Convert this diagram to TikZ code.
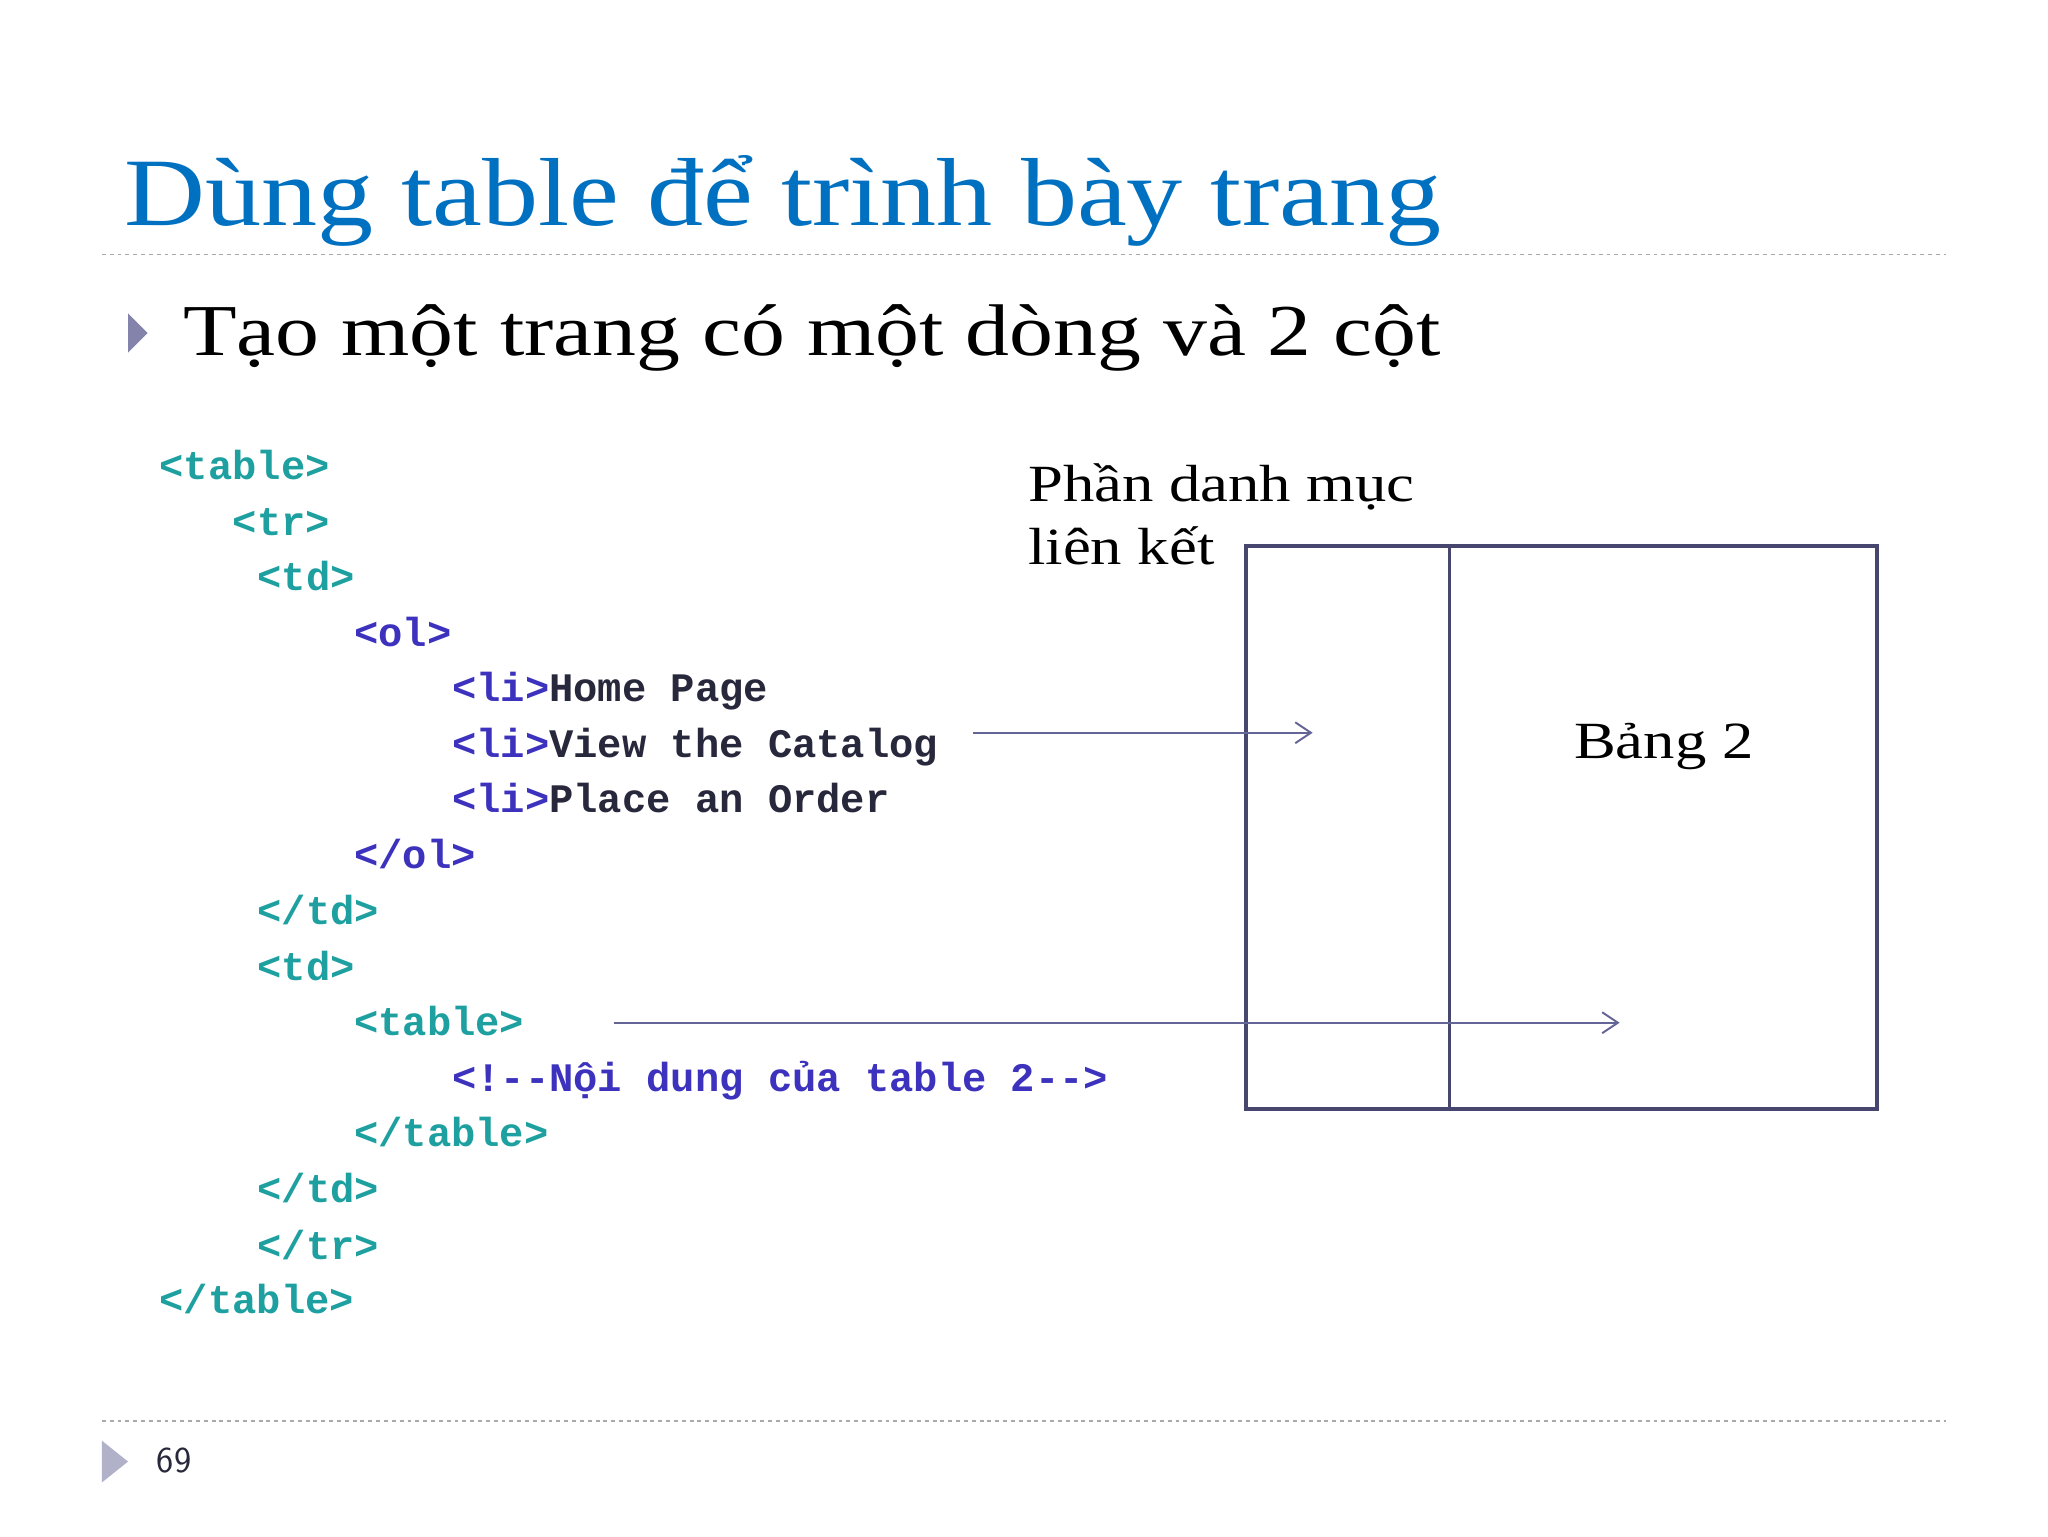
\documentclass[tikz,border=0pt]{standalone}
\usepackage{fontspec}
\setmainfont{Liberation Serif}
\newfontfamily\codefont{Liberation Mono}
\newfontfamily\wideA[FakeStretch=1.16]{Liberation Serif}
\newfontfamily\wideB[FakeStretch=1.2]{Liberation Serif}
\usetikzlibrary{arrows.meta}
\definecolor{titleblue}{RGB}{0,112,192}
\definecolor{tagc}{RGB}{30,160,160}
\definecolor{tagb}{RGB}{60,50,190}
\definecolor{txtc}{RGB}{40,40,60}
\definecolor{boxc}{RGB}{70,70,110}
\definecolor{arrc}{RGB}{100,100,150}
\definecolor{dashc}{RGB}{170,170,170}
\tikzset{
 code/.style={anchor=base west,inner sep=0pt,font=\codefont\fontsize{31}{31}\selectfont\bfseries},
 lbl/.style={anchor=base west,inner sep=0pt,font=\wideB\fontsize{40}{40}\selectfont},
 arr/.style={draw=arrc,line width=1.5pt,-{Straight Barb[length=12pt,width=16pt]}},
}
\begin{document}
\begin{tikzpicture}[x=1pt,y=-1pt]
\useasboundingbox[fill=white] (0,0) rectangle (1568,1176);
\node[anchor=base west,inner sep=0pt,text=titleblue,font=\wideA\fontsize{74}{74}\selectfont] (title) at (95,173) {Dùng table để trình bày trang};
\draw[dashc,dashed,line width=1.2pt] (78,195) -- (1490,195);
\draw[dashc,dashed,line width=1.2pt] (78,1088) -- (1490,1088);
\fill[arrc!80] (98,240) -- (113,255) -- (98,270) -- cycle;
\node[anchor=base west,inner sep=0pt,font=\wideB\fontsize{56}{56}\selectfont] (bul) at (140,272) {Tạo một trang có một dòng và 2 cột};
\fill[arrc!50] (78,1103) -- (98,1119) -- (78,1135) -- cycle;
\node[anchor=base west,inner sep=0pt,text=txtc,font=\fontsize{28}{28}\selectfont\sffamily] (pg) at (120,1127) {69};
% code
\node[code,text=tagc] (c1) at (122,367) {<table>};
\node[code,text=tagc] (c2) at (178,410) {<tr>};
\node[code,text=tagc] (c3) at (197,452) {<td>};
\node[code,text=tagb] (c4) at (271,495) {<ol>};
\node[code] (c5) at (346,537) {\textcolor{tagb}{<li>}\textcolor{txtc}{Home Page}};
\node[code] (c6) at (346,580) {\textcolor{tagb}{<li>}\textcolor{txtc}{View the Catalog}};
\node[code] (c7) at (346,622) {\textcolor{tagb}{<li>}\textcolor{txtc}{Place an Order}};
\node[code,text=tagb] (c8) at (271,665) {</ol>};
\node[code,text=tagc] (c9) at (197,708) {</td>};
\node[code,text=tagc] (c10) at (197,751) {<td>};
\node[code,text=tagc] (c11) at (271,793) {<table>};
\node[code,text=tagb] (c12) at (346,836) {<!--Nội dung của table 2-->};
\node[code,text=tagc] (c13) at (271,878) {</table>};
\node[code,text=tagc] (c14) at (197,921) {</td>};
\node[code,text=tagc] (c15) at (197,964) {</tr>};
\node[code,text=tagc] (c16) at (122,1006) {</table>};
% boxes
\node[lbl] (ph1) at (787,384) {Phần danh mục};
\node[lbl] (ph2) at (787,432) {liên kết};
\draw[boxc,line width=2.5pt] (954,418) rectangle (1437,849);
\draw[boxc,line width=2.5pt] (1110,418) -- (1110,849);
\node[lbl] (b2) at (1205,581) {Bảng 2};
\coordinate (a1s) at (745,561); \coordinate (a1e) at (1005,561);
\coordinate (a2s) at (470,783); \coordinate (a2e) at (1240,783);
\draw[arr] (a1s) -- (a1e);
\draw[arr] (a2s) -- (a2e);
\end{tikzpicture}
\end{document}
